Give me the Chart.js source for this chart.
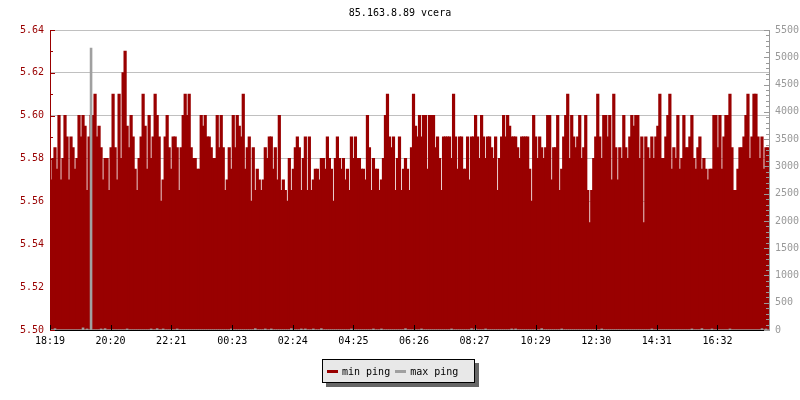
<!DOCTYPE html>
<html>
<head>
<meta charset="utf-8">
<title>85.163.8.89 vcera</title>
<script src="https://cdn.jsdelivr.net/npm/chart.js@4.4.0/dist/chart.umd.min.js"></script>
<style>
  html, body { margin: 0; padding: 0; background: #fff; }
  #wrap { position: relative; width: 800px; height: 400px; }
  #legend {
    position: absolute; left: 322px; top: 359px; width: 151px; height: 22px;
    background: #e8e8e8; border: 1px solid #000; box-shadow: 4px 4px 0 #666;
    font: 10px 'DejaVu Sans Mono', monospace; color: #000;
    display: flex; align-items: center; white-space: nowrap;
  }
  #legend .sw { display: inline-block; width: 11px; height: 3px; margin: 0 4px 0 4px; }
  #legend .txt { margin-right: 1px; }
</style>
</head>
<body>
<div id="wrap">
  <canvas id="pingChart" width="800" height="400"></canvas>
  <div id="legend">
    <span class="sw" style="background:#990000"></span><span class="txt">min ping</span>
    <span class="sw" style="background:#a0a0a0"></span><span class="txt">max ping</span>
  </div>
</div>
<script>
// minutes per sample
var STEP = 4;

var tickMinutes = [0, 121, 242, 364, 485, 606, 727, 848, 970, 1091, 1212, 1333];
var tickLabels = ['18:19', '20:20', '22:21', '00:23', '02:24', '04:25', '06:26', '08:27', '10:29', '12:30', '14:31', '16:32'];

// min ping (ms), left axis
var minPing = [
  5.57,5.58,5.585,5.575,5.60,5.57,5.58,5.60,5.59,5.57, 5.59,5.585,5.575,5.58,5.60,5.59,5.60,5.595,5.565,5.59,
  5.60,5.60,5.61,5.59,5.595,5.585,5.57,5.58,5.58,5.565, 5.585,5.61,5.585,5.57,5.61,5.58,5.62,5.63,5.595,5.585,
  5.60,5.59,5.575,5.565,5.58,5.59,5.61,5.595,5.575,5.60, 5.58,5.59,5.61,5.60,5.59,5.56,5.57,5.59,5.60,5.585,
  5.575,5.59,5.59,5.585,5.565,5.585,5.60,5.61,5.60,5.61, 5.585,5.58,5.58,5.575,5.575,5.60,5.595,5.60,5.59,5.59,
  5.585,5.58,5.58,5.60,5.585,5.60,5.585,5.565,5.57,5.585, 5.575,5.60,5.585,5.60,5.595,5.59,5.61,5.575,5.585,5.59,
  5.56,5.585,5.565,5.575,5.57,5.565,5.57,5.585,5.58,5.59, 5.59,5.575,5.585,5.57,5.60,5.565,5.57,5.565,5.56,5.58,
  5.565,5.575,5.585,5.59,5.585,5.565,5.58,5.59,5.565,5.59, 5.565,5.57,5.575,5.575,5.57,5.58,5.58,5.575,5.59,5.58,
  5.575,5.56,5.58,5.59,5.58,5.575,5.58,5.57,5.575,5.565, 5.59,5.58,5.59,5.58,5.58,5.575,5.575,5.57,5.60,5.585,
  5.565,5.58,5.575,5.575,5.565,5.57,5.58,5.60,5.61,5.59, 5.585,5.59,5.565,5.58,5.59,5.565,5.575,5.58,5.575,5.565,
  5.585,5.61,5.595,5.59,5.60,5.59,5.60,5.60,5.575,5.60, 5.60,5.60,5.585,5.59,5.58,5.565,5.59,5.59,5.59,5.59,
  5.58,5.61,5.59,5.575,5.59,5.59,5.575,5.575,5.59,5.57, 5.59,5.59,5.60,5.59,5.58,5.60,5.59,5.58,5.59,5.59,
  5.585,5.58,5.59,5.565,5.58,5.59,5.60,5.59,5.60,5.595, 5.59,5.59,5.59,5.585,5.58,5.59,5.59,5.59,5.59,5.575,
  5.56,5.60,5.59,5.58,5.59,5.585,5.58,5.585,5.60,5.60, 5.57,5.585,5.585,5.60,5.565,5.575,5.59,5.60,5.61,5.58,
  5.60,5.59,5.585,5.59,5.60,5.58,5.585,5.60,5.565,5.55, 5.565,5.58,5.59,5.61,5.59,5.58,5.60,5.60,5.59,5.60,
  5.57,5.61,5.585,5.57,5.585,5.58,5.60,5.585,5.58,5.59, 5.60,5.595,5.60,5.60,5.58,5.59,5.55,5.59,5.585,5.58,
  5.59,5.58,5.59,5.595,5.61,5.58,5.58,5.59,5.60,5.61, 5.575,5.585,5.58,5.60,5.575,5.58,5.60,5.585,5.585,5.59,
  5.60,5.58,5.575,5.585,5.59,5.575,5.58,5.575,5.57,5.575, 5.575,5.60,5.60,5.585,5.60,5.575,5.59,5.60,5.60,5.61,
  5.585,5.565,5.565,5.575,5.585,5.585,5.59,5.60,5.61,5.58, 5.59,5.61,5.61,5.59,5.58,5.59,5.575,5.585,5.585
];

// max ping (ms), right axis
var maxPing = [
  6,6,25,6,6,6,6,6,6,6,6,6,6,6,6,6,40,6,20,6,
  5170,6,6,6,6,20,6,25,6,6,6,6,6,6,6,6,6,6,20,6,
  6,6,6,6,6,6,6,6,6,6,20,6,6,25,6,6,20,6,6,6,
  6,6,6,20,6,6,6,6,6,6,6,6,6,6,6,6,6,6,6,6,
  6,6,6,6,6,6,6,6,6,6,20,6,6,6,6,6,6,6,6,6,
  6,6,25,6,6,6,6,20,6,6,20,6,6,6,6,6,6,6,6,6,
  25,6,6,6,6,20,6,20,6,6,6,20,6,6,6,25,6,6,6,6,
  6,6,6,6,6,6,6,6,6,6,20,6,6,6,6,6,6,6,6,6,
  6,20,6,6,6,20,6,6,6,6,6,6,6,6,6,6,6,25,6,6,
  6,6,6,6,6,20,6,6,6,6,6,6,6,6,6,6,6,6,6,6,
  20,6,6,6,6,6,6,6,6,6,25,6,20,6,6,6,6,20,6,6,
  6,6,6,6,6,6,6,6,6,6,20,6,20,6,6,6,6,6,6,6,
  6,6,6,6,6,25,6,6,6,6,6,6,6,6,6,20,6,6,6,6,
  6,6,6,6,6,6,6,6,6,6,6,6,6,6,6,20,6,6,6,6,
  6,6,6,6,6,6,6,6,6,6,6,6,6,6,6,6,6,6,6,6,
  20,6,6,6,6,6,6,6,6,6,6,6,6,6,6,6,6,6,6,6,
  20,6,6,6,6,25,6,6,6,6,20,6,6,6,6,6,6,6,6,20,
  6,6,6,6,6,6,6,6,6,6,6,6,6,6,6,25,6,20,6
];

var leftMin = 5.50, leftMax = 5.64, leftStep = 0.02, leftMinor = 0.01;
var rightMin = 0, rightMax = 5500, rightStep = 500, rightMinor = 100;

var FONT = { family: "'DejaVu Sans Mono', monospace", size: 10 };

function toPoints(arr) {
  return arr.map(function (v, i) { return { x: i * STEP + STEP / 2, y: v }; });
}

// inward tick marks like the original graph
var axisMarks = {
  id: 'axisMarks',
  afterDraw: function (chart) {
    var ctx = chart.ctx, area = chart.chartArea;
    var sy = chart.scales.y, sy1 = chart.scales.y1, sx = chart.scales.x;
    var i, p, len;
    ctx.save();
    ctx.lineWidth = 1;

    ctx.strokeStyle = '#990000';
    ctx.beginPath();
    var nLeft = Math.round((leftMax - leftMin) / leftMinor);
    for (i = 0; i <= nLeft; i++) {
      p = Math.round(sy.getPixelForValue(leftMin + i * leftMinor)) + 0.5;
      len = (i % 2) ? 3 : 5;
      ctx.moveTo(area.left, p);
      ctx.lineTo(area.left + len, p);
    }
    ctx.stroke();

    ctx.strokeStyle = '#999999';
    ctx.beginPath();
    var nRight = Math.round((rightMax - rightMin) / rightMinor);
    for (i = 0; i <= nRight; i++) {
      p = Math.round(sy1.getPixelForValue(rightMin + i * rightMinor)) + 0.5;
      len = (i % 5) ? 3 : 5;
      ctx.moveTo(area.right, p);
      ctx.lineTo(area.right - len, p);
    }
    ctx.stroke();

    ctx.strokeStyle = '#000000';
    ctx.beginPath();
    for (i = 0; i < tickMinutes.length; i++) {
      p = Math.round(sx.getPixelForValue(tickMinutes[i])) + 0.5;
      ctx.moveTo(p, area.bottom);
      ctx.lineTo(p, area.bottom - 5);
    }
    ctx.stroke();
    ctx.restore();
  }
};

var ctx = document.getElementById('pingChart');
var pingChart = new Chart(ctx, {
  type: 'bar',
  data: {
    datasets: [{
      label: 'min ping',
      data: toPoints(minPing),
      yAxisID: 'y',
      backgroundColor: '#990000',
      borderWidth: 0,
      barPercentage: 1,
      categoryPercentage: 1,
      inflateAmount: 0.6,
      grouped: false,
      order: 1
    }, {
      label: 'max ping',
      data: toPoints(maxPing),
      yAxisID: 'y1',
      backgroundColor: '#a0a0a0',
      borderWidth: 0,
      barPercentage: 1,
      categoryPercentage: 1,
      inflateAmount: 0.3,
      grouped: false,
      order: 0
    }]
  },
  options: {
    responsive: false,
    animation: false,
    devicePixelRatio: 1,
    layout: { padding: 0 },
    plugins: {
      legend: { display: false },
      tooltip: { enabled: false },
      title: {
        display: true,
        text: '85.163.8.89 vcera',
        color: '#000',
        font: { family: FONT.family, size: 10, weight: 'normal' },
        padding: { top: 7, bottom: 11 }
      }
    },
    scales: {
      x: {
        type: 'linear',
        min: 0,
        max: minPing.length * STEP,
        offset: false,
        grid: { display: false, offset: false, drawTicks: false },
        border: { display: true, color: '#000' },
        afterBuildTicks: function (scale) {
          scale.ticks = tickMinutes.map(function (m) { return { value: m }; });
        },
        afterFit: function (scale) { scale.height = 70; },
        ticks: {
          autoSkip: false,
          maxRotation: 0,
          color: '#000',
          font: FONT,
          padding: 5,
          callback: function (value) { return tickLabels[tickMinutes.indexOf(value)]; }
        }
      },
      y: {
        position: 'left',
        min: leftMin,
        max: leftMax,
        grid: { color: '#c0c0c0', drawTicks: false },
        border: { display: true, color: '#990000' },
        afterFit: function (scale) { scale.width = 50; },
        ticks: {
          stepSize: leftStep,
          color: '#990000',
          font: FONT,
          padding: 6,
          callback: function (v) { return Number(v).toFixed(2); }
        }
      },
      y1: {
        position: 'right',
        min: rightMin,
        max: rightMax,
        grid: { display: false, drawTicks: false },
        border: { display: true, color: '#999999' },
        afterFit: function (scale) { scale.width = 31; },
        ticks: {
          stepSize: rightStep,
          color: '#999999',
          font: FONT,
          padding: 6,
          callback: function (v) { return String(v); }
        }
      }
    }
  },
  plugins: [axisMarks]
});
</script>
</body>
</html>
